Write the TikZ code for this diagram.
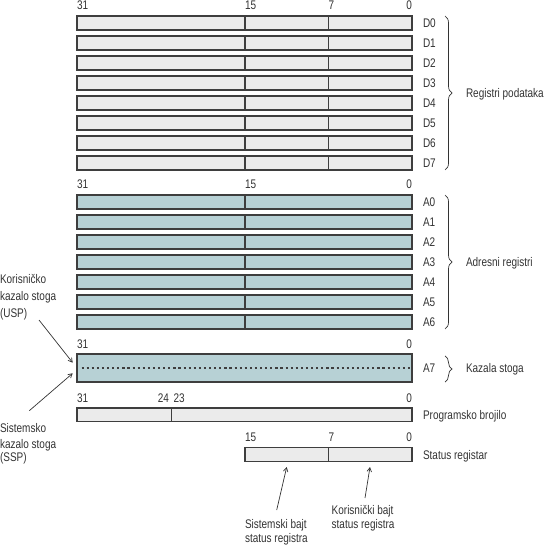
\documentclass[tikz,border=0pt]{standalone}
\usepackage{fontspec}
\setmainfont{Liberation Sans}[FakeStretch=0.8]
\usetikzlibrary{decorations.pathreplacing,arrows.meta}
\definecolor{regfill}{HTML}{EBEBEB}
\definecolor{adrfill}{HTML}{B7D1D5}
\definecolor{bord}{HTML}{3E3E3E}
\definecolor{txt}{HTML}{333333}
\begin{document}
\begin{tikzpicture}[x=1pt,y=-1pt,
  lbl/.style={inner sep=0pt, outer sep=0pt, text=txt, font=\fontsize{12.5}{14}\selectfont, anchor=base west},
  lble/.style={lbl, anchor=base east},
  regbox/.style={draw=bord, line width=1.4pt, anchor=north west, minimum width=335pt, minimum height=14pt, inner sep=0pt, outer sep=0pt},
  sep/.style={draw=bord, line width=1.4pt},
  brc/.style={draw=txt, line width=0.7pt, decorate, decoration={brace, amplitude=7pt}},
  arr/.style={draw=txt, line width=0.7pt, -{Straight Barb[length=4pt,width=4.5pt]}}
]
\useasboundingbox (0,0) rectangle (545,545);

% ---------- data registers ----------
\node[lbl] (dh31) at (77,10) {31};
\node[lbl] (dh15) at (245,10) {15};
\node[lbl] (dh7) at (328.5,10) {7};
\node[lble] (dh0) at (412,10) {0};
\foreach \i in {0,...,7} {
  \node[regbox, fill=regfill] (D\i) at (77,16+20*\i) {};
  \draw[sep] (245,16+20*\i) -- ++(0,14);
  \draw[sep] (328.5,16+20*\i) -- ++(0,14);
  \node[lbl] (DL\i) at (423,27.5+20*\i) {D\i};
}
\draw[brc] (445,16) -- (445,170);
\node[lbl] (regpod) at (466,97.5) {Registri podataka};

% ---------- address registers ----------
\node[lbl] (ah31) at (77,189) {31};
\node[lbl] (ah15) at (245,189) {15};
\node[lble] (ah0) at (412,189) {0};
\foreach \i in {0,...,6} {
  \node[regbox, fill=adrfill] (A\i) at (77,195+20*\i) {};
  \draw[sep] (245,195+20*\i) -- ++(0,14);
  \node[lbl] (AL\i) at (423,206.5+20*\i) {A\i};
}
\draw[brc] (445,195) -- (445,329);
\node[lbl] (adr) at (466,266.5) {Adresni registri};

% ---------- A7 ----------
\node[lbl] (sh31) at (77,348) {31};
\node[lble] (sh0) at (412,348) {0};
\node[regbox, fill=adrfill, minimum height=28pt] (A7) at (77,354) {};
\draw[draw=bord, line width=2pt, dash pattern=on 2.2pt off 2.9pt] (81.5,368) -- (410,368);
\node[lbl] (AL7) at (423,372.5) {A7};
\draw[brc] (445,356) -- (445,382);
\node[lbl] (kaz) at (466,372.5) {Kazala stoga};

% ---------- program counter ----------
\node[lbl] (ph31) at (77,402) {31};
\node[lble] (ph24) at (169,402) {24};
\node[lbl] (ph23) at (173.5,402) {23};
\node[lble] (ph0) at (412,402) {0};
\node[regbox, fill=regfill, minimum height=13.5pt] (PC) at (77,408) {};
\draw[sep] (171.7,408) -- ++(0,13.5);
\node[lbl] (pcl) at (423,419) {Programsko brojilo};

% ---------- status register ----------
\node[lbl] (rh15) at (245,441) {15};
\node[lbl] (rh7) at (328.5,441) {7};
\node[lble] (rh0) at (412,441) {0};
\node[regbox, fill=regfill, minimum width=167pt] (SR) at (245,447.3) {};
\draw[sep] (328.5,447.3) -- ++(0,14);
\node[lbl] (srl) at (423,459) {Status registar};

% ---------- left labels ----------
\node[lbl] (usp1) at (0,283.5) {Korisničko};
\node[lbl] (usp2) at (0,300.5) {kazalo stoga};
\node[lbl] (usp3) at (0,317.5) {(USP)};
\node[lbl] (ssp1) at (0,432.5) {Sistemsko};
\node[lbl] (ssp2) at (0,448) {kazalo stoga};
\node[lbl] (ssp3) at (0,461.5) {(SSP)};
\coordinate (uspS) at (39,320);
\coordinate (uspT) at (72.7,362.7);
\coordinate (sspS) at (29.3,410.7);
\coordinate (sspT) at (72.7,373.3);
\draw[arr] (uspS) -- (uspT);
\draw[arr] (sspS) -- (sspT);

% ---------- bottom labels ----------
\node[lbl] (sb1) at (245,528.5) {Sistemski bajt};
\node[lbl] (sb2) at (245,542.5) {status registra};
\node[lbl] (kb1) at (331.7,514.5) {Korisnički bajt};
\node[lbl] (kb2) at (331.7,528.5) {status registra};
\coordinate (sbS) at (276.7,510);
\coordinate (sbT) at (286.7,467);
\coordinate (kbS) at (365,498);
\coordinate (kbT) at (370,467);
\draw[arr] (sbS) -- (sbT);
\draw[arr] (kbS) -- (kbT);
\end{tikzpicture}
\end{document}
